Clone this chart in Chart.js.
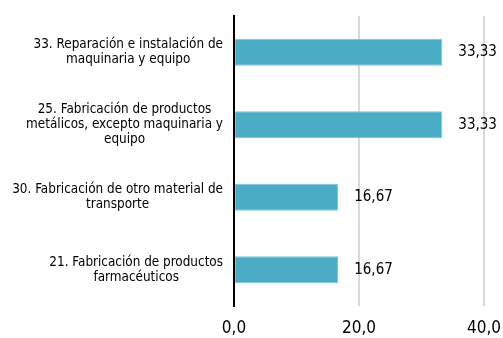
<!DOCTYPE html>
<html>
<head>
<meta charset="utf-8">
<script src="https://cdn.jsdelivr.net/npm/chart.js@4"></script>
<style>
  html, body { margin: 0; padding: 0; background: #fff; overflow: hidden; }
  #wrap { width: 503px; height: 338px; }
</style>
</head>
<body>
<div id="wrap"><canvas id="chart"></canvas></div>
<script>
var categories = [
    ["33. Reparación e instalación de", "maquinaria y equipo"],
    ["25. Fabricación de productos", "metálicos, excepto maquinaria y", "equipo"],
    ["30. Fabricación de otro material de", "transporte"],
    ["21. Fabricación de productos", "farmacéuticos"]
];
var values = [33.33, 33.33, 16.67, 16.67];
var xTicks = [0, 20, 40];

var fontFamily = '"DejaVu Sans Condensed", "DejaVu Sans", sans-serif';

function comma(v, d) {
    return v.toFixed(d).replace('.', ',');
}

// value labels to the right of each bar
var valueLabels = {
    id: 'valueLabels',
    afterDatasetsDraw: function(chart) {
        var ctx = chart.ctx;
        var meta = chart.getDatasetMeta(0);
        ctx.save();
        ctx.font = '15px ' + fontFamily;
        ctx.fillStyle = '#000';
        ctx.textAlign = 'left';
        ctx.textBaseline = 'middle';
        meta.data.forEach(function(bar, i) {
            ctx.fillText(comma(values[i], 2), bar.x + 16, bar.y);
        });
        ctx.restore();
    }
};

// category labels: block right-aligned to the axis, lines centred inside the block
var categoryLabels = {
    id: 'categoryLabels',
    afterDraw: function(chart) {
        var ctx = chart.ctx;
        var yScale = chart.scales.y;
        var right = chart.chartArea.left - 11;
        var lineH = 15;
        ctx.save();
        ctx.font = '13.4px ' + fontFamily;
        ctx.fillStyle = '#000';
        ctx.textAlign = 'center';
        ctx.textBaseline = 'middle';
        categories.forEach(function(lines, i) {
            var w = 0;
            lines.forEach(function(t) { w = Math.max(w, ctx.measureText(t).width); });
            var cx = right - w / 2;
            var cy = yScale.getPixelForTick(i);
            var y0 = cy - (lines.length - 1) * lineH / 2;
            lines.forEach(function(t, j) {
                ctx.fillText(t, cx, y0 + j * lineH);
            });
        });
        ctx.restore();
    }
};

var ctx = document.getElementById("chart");
var chart = new Chart(ctx, {
    type: 'bar',
    data: {
        labels: categories,
        datasets: [{
            data: values,
            backgroundColor: '#4BACC6',
            borderColor: '#7EC3D6',
            borderWidth: 1,
            borderSkipped: false,
            barPercentage: 0.74,
            categoryPercentage: 0.5
        }]
    },
    options: {
        indexAxis: 'y',
        responsive: true,
        maintainAspectRatio: false,
        animation: false,
        layout: {
            padding: { top: 16, right: 19, left: 0, bottom: 0 }
        },
        plugins: {
            legend: { display: false },
            tooltip: { enabled: false }
        },
        scales: {
            x: {
                min: 0,
                max: 40,
                afterBuildTicks: function(axis) {
                    axis.ticks = xTicks.map(function(v) { return { value: v }; });
                },
                afterFit: function(axis) {
                    axis.height = 32;
                    axis.paddingLeft = 0;
                    axis.paddingRight = 0;
                },
                grid: {
                    color: '#d9d9d9',
                    lineWidth: 2,
                    drawTicks: false
                },
                border: { display: false },
                ticks: {
                    padding: 12,
                    color: '#000',
                    font: { family: fontFamily, size: 17 },
                    maxRotation: 0,
                    callback: function(v) { return comma(v, 1); }
                }
            },
            y: {
                afterFit: function(axis) {
                    axis.width = 234;
                    axis.paddingTop = 0;
                    axis.paddingBottom = 0;
                },
                grid: { display: false, drawTicks: false },
                border: { display: true, color: '#000', width: 2 },
                ticks: { display: false }
            }
        }
    },
    plugins: [valueLabels, categoryLabels]
});
</script>
</body>
</html>
